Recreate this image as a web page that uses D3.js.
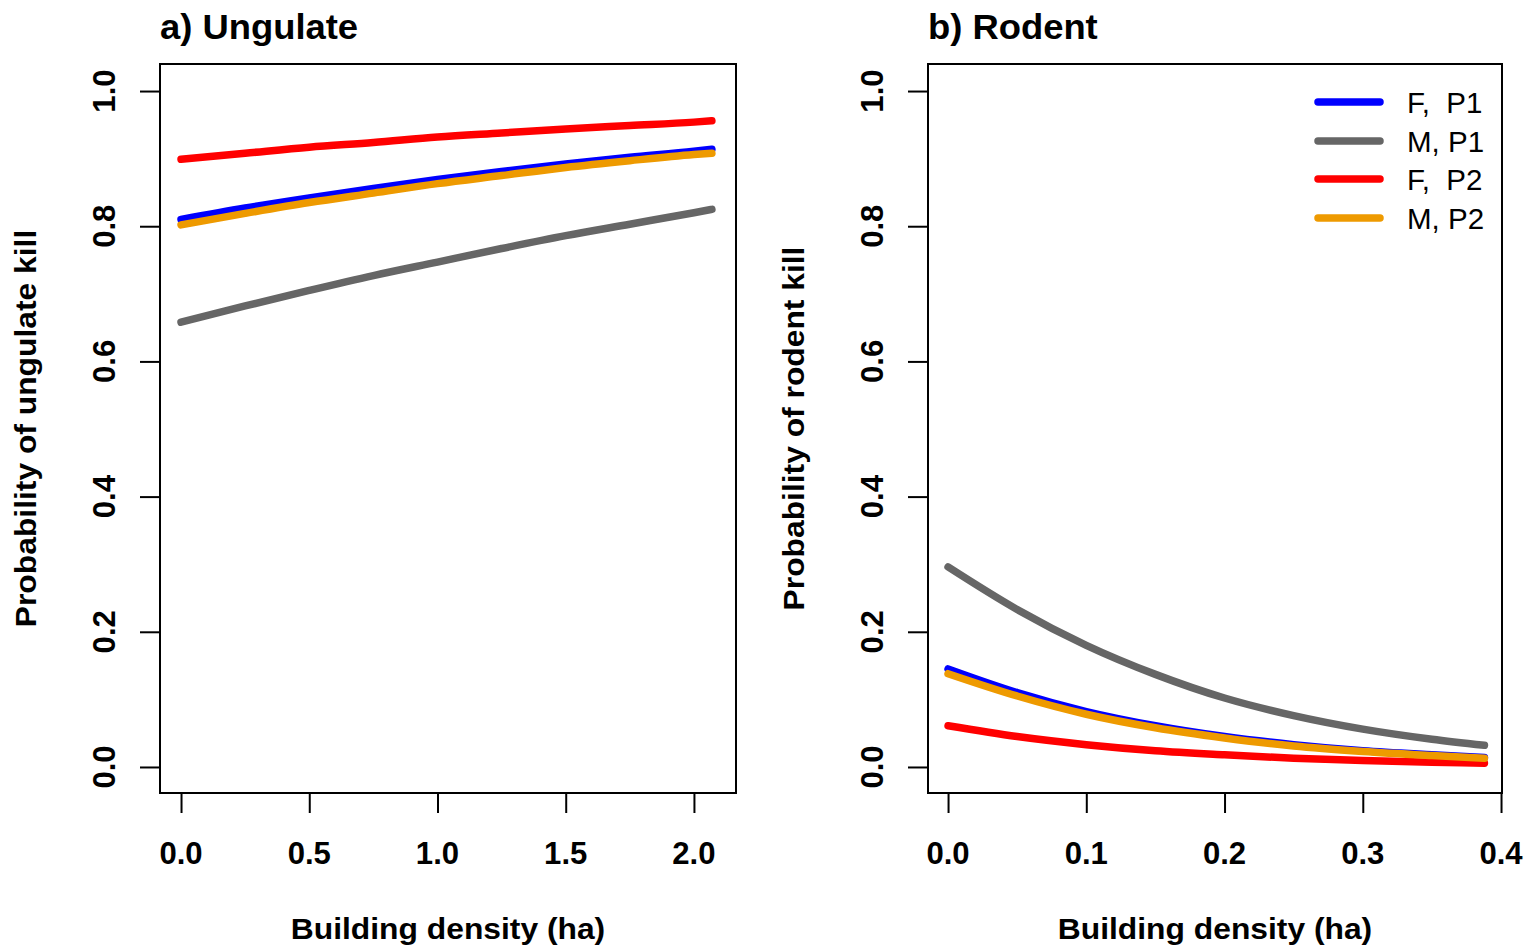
<!DOCTYPE html>
<html><head><meta charset="utf-8">
<script src="https://cdn.jsdelivr.net/npm/d3@7"></script>
<style>html,body{margin:0;padding:0;background:#fff;} svg{display:block;}</style>
</head><body>
<svg id="chart" width="1529" height="949"></svg>
<script>
// ---- data ----
const seriesNames = ["F,  P1", "M, P1", "F,  P2", "M, P2"];
const seriesColors = ["#0000FF", "#666666", "#FF0000", "#EE9A00"];

// a) Ungulate
const xUngulate = [0, 0.25, 0.5, 0.75, 1.0, 1.25, 1.5, 1.75, 2.0, 2.07];
const ungFP1 = [0.810, 0.827, 0.842, 0.856, 0.869, 0.881, 0.892, 0.902, 0.911, 0.914];
const ungMP1 = [0.658, 0.682, 0.705, 0.727, 0.747, 0.767, 0.786, 0.803, 0.820, 0.825];
const ungFP2 = [0.899, 0.908, 0.917, 0.924, 0.932, 0.938, 0.944, 0.949, 0.954, 0.956];
const ungMP2 = [0.802, 0.819, 0.835, 0.849, 0.863, 0.875, 0.887, 0.897, 0.906, 0.908];

// b) Rodent
const xRodent = [0, 0.05, 0.1, 0.15, 0.2, 0.25, 0.3, 0.35, 0.388];
const rodFP1 = [0.145, 0.110, 0.082, 0.061, 0.045, 0.033, 0.024, 0.018, 0.014];
const rodMP1 = [0.296, 0.233, 0.180, 0.137, 0.102, 0.076, 0.056, 0.041, 0.032];
const rodFP2 = [0.061, 0.045, 0.033, 0.024, 0.018, 0.013, 0.0096, 0.007, 0.0055];
const rodMP2 = [0.138, 0.105, 0.078, 0.058, 0.043, 0.031, 0.023, 0.017, 0.013];

const yTicks = [0.0, 0.2, 0.4, 0.6, 0.8, 1.0];
const xTicksA = [0.0, 0.5, 1.0, 1.5, 2.0];
const xTicksB = [0.0, 0.1, 0.2, 0.3, 0.4];

const panels = [
  {title: "a) Ungulate", ylab: "Probability of ungulate kill", xlab: "Building density (ha)",
   x: xUngulate, ys: [ungFP1, ungMP1, ungFP2, ungMP2], xDomain: [-0.082, 2.164], xTicks: xTicksA,
   left: 160, right: 736, legend: false},
  {title: "b) Rodent", ylab: "Probability of rodent kill", xlab: "Building density (ha)",
   x: xRodent, ys: [rodFP1, rodMP1, rodFP2, rodMP2], xDomain: [-0.0145, 0.4007], xTicks: xTicksB,
   left: 928, right: 1502, legend: true}
];

(function () {
const svg = d3.select("#chart");
const plotTop = 64, plotBottom = 793;
const FONT = "'Liberation Sans', Arial, Helvetica, sans-serif";
const tickLen = 20;

function txt(g, s, x, y, rot, size, sx, weight, anchor) {
  g.append("text")
    .attr("transform", `translate(${x},${y}) rotate(${rot}) scale(${sx},1)`)
    .attr("text-anchor", anchor)
    .attr("font-family", FONT).attr("font-size", size).attr("font-weight", weight)
    .style("white-space", "pre")
    .attr("fill", "#000").text(s);
}

panels.forEach(p => {
  const g = svg.append("g");
  const x = d3.scaleLinear().domain(p.xDomain).range([p.left, p.right]);
  const y = d3.scaleLinear().domain([-0.0385, 1.04]).range([plotBottom, plotTop]);

  const line = d3.line().x(d => x(d[0])).y(d => y(d[1])).curve(d3.curveMonotoneX);
  p.ys.forEach((ys, i) => {
    g.append("path").datum(p.x.map((v, j) => [v, ys[j]]))
      .attr("d", line).attr("fill", "none").attr("stroke", seriesColors[i])
      .attr("stroke-width", 7.5).attr("stroke-linecap", "round").attr("stroke-linejoin", "round");
  });

  g.append("rect").attr("x", p.left).attr("y", plotTop).attr("width", p.right - p.left)
    .attr("height", plotBottom - plotTop).attr("fill", "none").attr("stroke", "#000").attr("stroke-width", 2);

  const xa = g.append("g").attr("transform", `translate(0,${plotBottom})`)
    .call(d3.axisBottom(x).tickValues(p.xTicks).tickSize(tickLen).tickSizeOuter(0).tickFormat(""));
  xa.select(".domain").attr("stroke-width", 2)
    .attr("d", `M${x(p.xTicks[0])},0H${x(p.xTicks[p.xTicks.length-1])}`);
  xa.selectAll(".tick line").attr("stroke-width", 2);
  p.xTicks.forEach(t => txt(g, d3.format(".1f")(t), x(t), 864, 0, 30.5, 1.02, "bold", "middle"));

  const ya = g.append("g").attr("transform", `translate(${p.left},0)`)
    .call(d3.axisLeft(y).tickValues(yTicks).tickSize(tickLen).tickSizeOuter(0).tickFormat(""));
  ya.select(".domain").attr("stroke-width", 2)
    .attr("d", `M0,${y(yTicks[0])}V${y(yTicks[yTicks.length-1])}`);
  ya.selectAll(".tick line").attr("stroke-width", 2);
  yTicks.forEach(t => txt(g, d3.format(".1f")(t), p.left - 45, y(t), -90, 30.5, 1.02, "bold", "middle"));

  txt(g, p.xlab, (p.left + p.right) / 2, 939, 0, 30, 1.06, "bold", "middle");
  txt(g, p.ylab, p.left - 124, (plotTop + plotBottom) / 2, -90, 30, 1.06, "bold", "middle");
  txt(g, p.title, p.left, 39, 0, 35, 1.04, "bold", "start");

  if (p.legend) {
    const rows = [102, 141, 179, 218];
    seriesNames.forEach((n, i) => {
      g.append("line").attr("x1", 1318).attr("x2", 1380).attr("y1", rows[i]).attr("y2", rows[i])
        .attr("stroke", seriesColors[i]).attr("stroke-width", 7.5).attr("stroke-linecap", "round");
      txt(g, n, 1407, rows[i] + 11, 0, 29.5, 1.0, "normal", "start");
    });
  }
});
})();
</script>
</body></html>
